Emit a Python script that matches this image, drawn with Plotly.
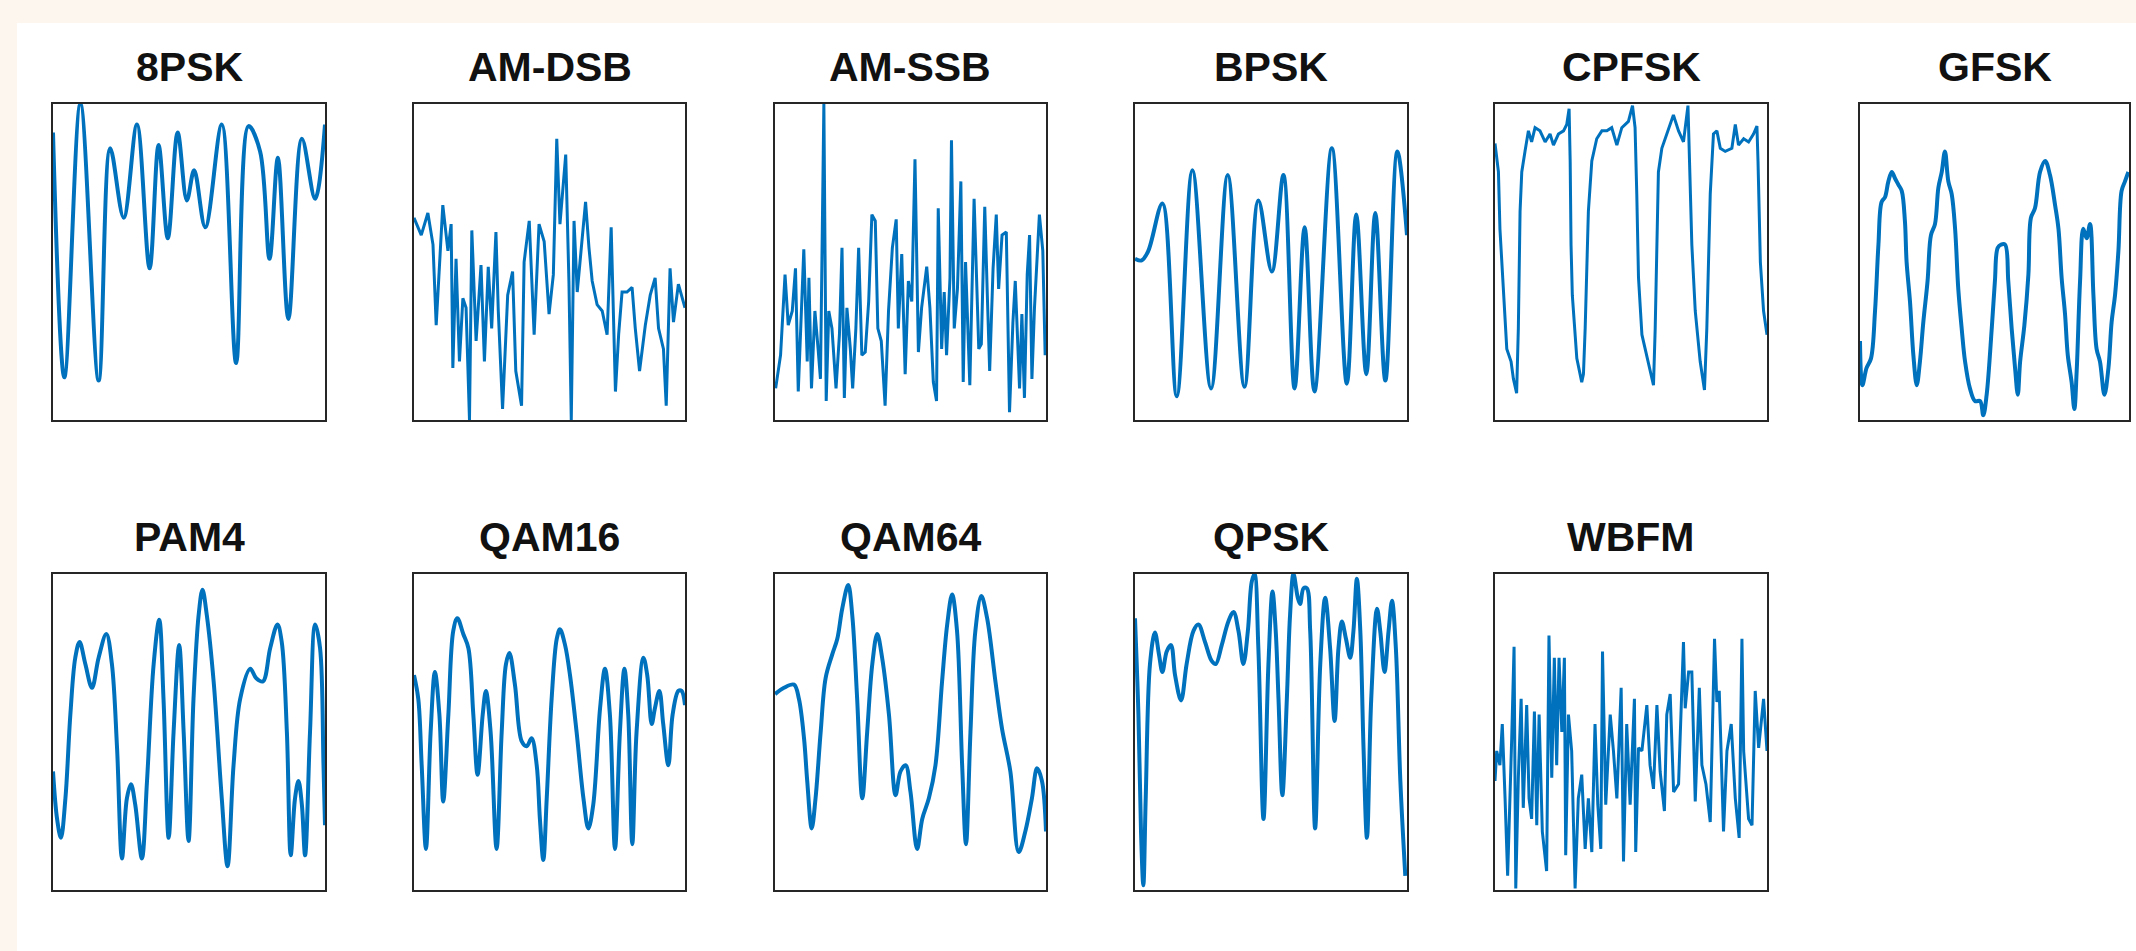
import plotly.graph_objects as go

# ---------------- data (sample index, amplitude) ----------------
titles = ["8PSK", "AM-DSB", "AM-SSB", "BPSK", "CPFSK", "GFSK",
          "PAM4", "QAM16", "QAM64", "QPSK", "WBFM"]

psk8_x = [1, 6.3, 13.8, 22.3, 27.7, 34, 40.2, 46.1, 50.3, 54.6, 59.2, 63.5, 66.9, 72.1, 79.8, 86.5,
          92.3, 97.7, 102.1, 106, 110.9, 117.2, 123.4, 128]
psk8_y = [0.82, -0.73, 1.0, -0.75, 0.72, 0.28, 0.87, -0.04, 0.74, 0.15, 0.82, 0.39, 0.58, 0.22, 0.87, -0.64,
          0.86, 0.70, 0.02, 0.66, -0.36, 0.78, 0.40, 0.87]

amdsb_x = [1, 4.4, 7.5, 9.9, 11.4, 14.5, 16.9, 18.4, 19.2, 20.7, 22.3, 23.9, 25.4, 27, 28.1, 30.1, 32.4, 34,
           35.8, 37.4, 39.4, 40.5, 42.5, 44.9, 47.2, 48.7, 51.4, 52.6, 55, 57.3, 59.6, 62, 64.3, 66.3, 67.9,
           69.4, 72.1, 73.6, 74.7, 76, 77.5, 79.8, 81.4, 83, 84.5, 86.8, 89.2, 91.5, 93.4, 95.4, 96.9, 98.5,
           100.8, 103.2, 104.7, 106.7, 109.4, 111.7, 114, 115.6, 117.9, 119.2, 121, 122.6, 124.9, 128]
amdsb_y = [0.28, 0.17, 0.31, 0.11, -0.40, 0.36, 0.07, 0.24, -0.67, 0.02, -0.63, -0.23, -0.29, -1.0, 0.20,
           -0.50, -0.02, -0.63, -0.03, -0.42, 0.19, -0.31, -0.93, -0.21, -0.06, -0.69, -0.91, 0.00, 0.26,
           -0.46, 0.24, 0.13, -0.33, -0.08, 0.78, 0.24, 0.68, -0.12, -1.0, 0.26, -0.19, 0.15, 0.38, 0.09,
           -0.12, -0.27, -0.31, -0.46, 0.22, -0.82, -0.46, -0.19, -0.19, -0.16, -0.42, -0.69, -0.40, -0.21,
           -0.10, -0.42, -0.55, -0.91, -0.04, -0.38, -0.14, -0.29]

amssb_x = [1.3, 3.6, 5.7, 7.2, 9.1, 10.6, 11.9, 13.4, 14.5, 16.1, 16.9, 18.1, 19.7, 21.2, 22.3, 23.9, 25,
           26.2, 27.7, 29.6, 31.2, 32.4, 33.5, 34.7, 36.3, 37.4, 38.9, 40.2, 41.7, 43.3, 44.9, 46.4, 48,
           49.2, 50.8, 52.6, 54.2, 56, 57.8, 58.8, 60.4, 62, 63.5, 65.1, 66.6, 68.2, 69.7, 72.1, 73.6, 75.2,
           76.7, 77.5, 79.1, 80.3, 81.4, 83, 83.7, 85, 86.5, 88.1, 89.2, 90.3, 92.3, 94.3, 95.4, 96.5, 97.7,
           99.3, 100.5, 101.6, 103.2, 104.7, 105.8, 107.4, 109.4, 110.9, 112.5, 113.6, 115.6, 116.7, 117.9,
           119.2, 120.3, 121.4, 122.6, 124.9, 126.5, 127.6]
amssb_y = [-0.80, -0.59, -0.08, -0.40, -0.31, -0.04, -0.82, -0.29, 0.08, -0.63, -0.10, -0.80, -0.31, -0.55,
           -0.74, 1.0, -0.88, -0.31, -0.42, -0.80, -0.46, 0.09, -0.86, -0.29, -0.55, -0.80, -0.42, 0.09,
           -0.59, -0.57, -0.25, 0.30, 0.26, -0.42, -0.50, -0.91, -0.31, 0.09, 0.27, -0.42, 0.05, -0.71,
           -0.12, -0.25, 0.65, -0.57, -0.29, -0.03, -0.29, -0.76, -0.88, 0.34, -0.55, -0.19, -0.59, -0.10,
           0.77, -0.42, -0.17, 0.51, -0.76, 0.00, -0.78, 0.40, -0.12, -0.55, -0.52, 0.35, -0.21, -0.69,
           -0.04, 0.30, -0.17, 0.17, 0.19, -0.95, -0.38, -0.12, -0.80, -0.33, -0.86, -0.08, 0.17, -0.74,
           -0.29, 0.30, 0.07, -0.59]

bpsk_x = [1, 4.1, 7.2, 13.8, 20.5, 27.8, 36.5, 44.3, 52.1, 58.6, 64.9, 70.3, 75.5, 80.2, 84.8, 92.9, 99.9,
          104.3, 109, 113.2, 117.9, 123.5, 128]
bpsk_y = [0.02, 0.01, 0.07, 0.37, -0.85, 0.58, -0.80, 0.55, -0.79, 0.39, -0.06, 0.55, -0.80, 0.22, -0.82,
          0.72, -0.77, 0.30, -0.71, 0.31, -0.75, 0.70, 0.17]

cpfsk_x = [1, 2.6, 3.3, 4.9, 6.5, 8.5, 9.6, 11.1, 11.9, 12.7, 13.5, 15, 16.6, 18.1, 19.7, 22, 24.4, 26.7,
           28.3, 30.6, 33, 34.5, 35.6, 36.1, 36.5, 37.1, 38.1, 39.2, 41.5, 42.3, 43.1, 44.6, 46.2, 48.5, 50.9,
           53.2, 55.5, 57.9, 60.2, 63.3, 65.2, 66.4, 67.2, 68, 69.6, 71.1, 72.7, 75, 75.8, 76.6, 77.3, 78.9,
           80.4, 82.8, 84.3, 86.7, 89, 91.1, 91.7, 92.9, 94.5, 96.8, 98.8, 99.9, 101.5, 103, 104.6, 106.2,
           108.5, 111.6, 113.2, 114.7, 117.1, 119.4, 121.7, 123.3, 123.8, 124.9, 126.4, 128]
cpfsk_y = [0.75, 0.57, 0.21, -0.21, -0.55, -0.63, -0.74, -0.83, -0.42, 0.32, 0.57, 0.70, 0.83, 0.76, 0.85,
           0.83, 0.76, 0.81, 0.74, 0.81, 0.83, 0.87, 0.97, 0.64, 0.11, -0.21, -0.38, -0.61, -0.76, -0.71,
           -0.42, 0.32, 0.64, 0.78, 0.83, 0.83, 0.85, 0.74, 0.85, 0.89, 0.99, 0.85, 0.43, -0.10, -0.46,
           -0.55, -0.63, -0.78, -0.42, 0.21, 0.57, 0.72, 0.78, 0.87, 0.93, 0.83, 0.76, 0.99, 0.64, 0.11,
           -0.31, -0.63, -0.81, -0.42, 0.43, 0.81, 0.83, 0.72, 0.70, 0.72, 0.87, 0.74, 0.78, 0.76, 0.81,
           0.86, 0.64, 0.00, -0.31, -0.46]

gfsk_x = [1, 2.1, 4.1, 6.2, 8.1, 9.7, 11.2, 12.8, 14.4, 16, 17.5, 19.1, 20.7, 22.2, 23, 24.6, 26.2, 27.8,
          29.3, 30.9, 32.9, 34.5, 36.4, 38, 39.6, 41.1, 42.7, 44.3, 45.9, 47.4, 49, 50.6, 52.9, 55.3, 57.7,
          59.2, 60.8, 63.2, 64.7, 66, 67.6, 69.5, 71, 72.6, 74.2, 75.5, 76.6, 78.6, 80.5, 81.7, 83.6, 86,
          88.4, 90.7, 93.1, 94.7, 96.2, 97.8, 99.1, 100.9, 102.2, 103.3, 104.9, 106.4, 108, 109.6, 111.2,
          112.7, 114.3, 116.4, 118.3, 119.8, 121.4, 123, 124.5, 126.1, 127.7]
gfsk_y = [-0.50, -0.78, -0.67, -0.61, -0.31, 0.11, 0.38, 0.41, 0.51, 0.57, 0.53, 0.49, 0.45, 0.26, 0.00,
          -0.25, -0.59, -0.78, -0.63, -0.38, -0.12, 0.17, 0.24, 0.47, 0.57, 0.70, 0.51, 0.43, 0.21, -0.17,
          -0.42, -0.63, -0.80, -0.88, -0.88, -0.97, -0.84, -0.42, -0.12, 0.09, 0.11, 0.11, -0.12, -0.42,
          -0.67, -0.84, -0.63, -0.40, -0.08, 0.28, 0.34, 0.57, 0.64, 0.55, 0.36, 0.21, -0.10, -0.33, -0.59,
          -0.76, -0.93, -0.69, -0.12, 0.21, 0.15, 0.24, -0.21, -0.55, -0.63, -0.84, -0.67, -0.38, -0.21,
          0.07, 0.45, 0.51, 0.57]

pam4_x = [1, 2.9, 4.7, 6.8, 9.1, 11.4, 13.4, 16.1, 19.2, 22.3, 25.9, 28.5, 30.9, 33.2, 35.5, 37.4, 39.4,
          42.5, 44.9, 48, 50.6, 52.6, 55, 57.3, 59.9, 62, 64.3, 66.6, 69, 70.8, 72.8, 76, 79.8, 82.5, 85.3,
          88.4, 93.1, 95.9, 99, 102.4, 105.8, 107.8, 110.2, 112, 114, 115.6, 117.2, 118.7, 121, 123.4,
          125.7, 127.3, 128]
pam4_y = [-0.25, -0.55, -0.67, -0.42, 0.11, 0.47, 0.57, 0.43, 0.28, 0.47, 0.62, 0.43, -0.10, -0.80, -0.42,
          -0.33, -0.46, -0.80, -0.31, 0.43, 0.71, 0.21, -0.67, 0.00, 0.55, 0.00, -0.69, 0.21, 0.74, 0.90,
          0.74, 0.32, -0.42, -0.85, -0.21, 0.21, 0.40, 0.34, 0.32, 0.53, 0.68, 0.57, 0.00, -0.78, -0.42,
          -0.31, -0.46, -0.78, 0.00, 0.68, 0.53, -0.21, -0.59]

qam16_x = [1, 3, 4.6, 6.6, 8.8, 10.8, 12.9, 14.7, 17.1, 19.4, 21.3, 24.1, 26.5, 28.8, 30.8, 33.2, 34.7,
           36.9, 39.7, 42.1, 44.1, 45.7, 48.3, 51.5, 53.8, 56.1, 58.5, 60, 61.6, 63.2, 65.5, 67.9, 69.4,
           71.8, 74.1, 77.2, 80.4, 82.7, 85, 88.2, 90.5, 92.8, 95.2, 97.5, 99.6, 101.4, 103.3, 105.3, 108.5,
           110.3, 112.4, 113.9, 116, 117.8, 120.2, 122.2, 124.9, 126.4, 128]
qam16_y = [0.36, 0.21, -0.21, -0.74, 0.00, 0.38, 0.11, -0.44, 0.11, 0.64, 0.72, 0.62, 0.53, 0.11, -0.27,
           0.11, 0.26, 0.00, -0.74, 0.00, 0.43, 0.50, 0.30, -0.06, -0.09, -0.04, -0.21, -0.55, -0.81, -0.42,
           0.21, 0.59, 0.65, 0.55, 0.36, 0.00, -0.42, -0.61, -0.46, 0.15, 0.40, 0.11, -0.74, 0.00, 0.40,
           0.11, -0.71, 0.00, 0.47, 0.36, 0.05, 0.15, 0.26, 0.05, -0.21, 0.11, 0.26, 0.26, 0.17]

qam64_x = [1, 5.2, 9.9, 12.2, 14.6, 16.1, 18.2, 20, 22.4, 24.7, 27.8, 30.2, 32.5, 35.3, 37.2, 39.5, 41.9,
           44.2, 46.6, 48.9, 51.2, 54.4, 57.5, 59.8, 62.2, 64.5, 67.6, 70, 73.1, 76.2, 79.3, 81.7, 84, 86.3,
           88.7, 90.5, 92.6, 94.9, 97.7, 100.4, 104.3, 107.4, 111.3, 115.2, 118.3, 121.4, 123.8, 126.1, 128]
qam64_y = [0.24, 0.28, 0.30, 0.21, -0.04, -0.31, -0.61, -0.42, 0.00, 0.34, 0.49, 0.59, 0.78, 0.93, 0.74,
           0.21, -0.42, 0.00, 0.43, 0.62, 0.47, 0.11, -0.40, -0.25, -0.21, -0.38, -0.74, -0.55, -0.42,
           -0.21, 0.32, 0.68, 0.87, 0.64, -0.21, -0.71, 0.00, 0.64, 0.86, 0.72, 0.32, 0.02, -0.25, -0.76,
           -0.63, -0.42, -0.23, -0.31, -0.63]

qpsk_x = [1, 2.6, 3.8, 4.9, 6, 8, 10.3, 12.2, 13.8, 15.8, 17.8, 19.7, 22.5, 25.1, 28.3, 30.6, 33.7, 36.8,
          38.7, 41.5, 44.6, 47, 49.3, 51.6, 53.7, 55.5, 56.8, 58.6, 61, 63.3, 65.2, 66.7, 68, 69.8, 71.9,
          73.4, 75, 77, 78.1, 79.7, 81.2, 82.8, 85.1, 87.5, 89.8, 92.1, 94.2, 96, 97.6, 99.5, 101.5, 103,
          104.6, 106.2, 107.7, 109.3, 111.3, 114, 115.5, 117.5, 119.4, 121, 122.8, 124.9, 127.2]
qpsk_y = [0.72, 0.11, -0.63, -0.97, -0.42, 0.43, 0.63, 0.49, 0.38, 0.51, 0.55, 0.36, 0.20, 0.43, 0.64,
          0.68, 0.57, 0.45, 0.43, 0.55, 0.70, 0.76, 0.64, 0.43, 0.64, 0.95, 1.0, 0.53, -0.55, 0.43, 0.89,
          0.64, 0.21, -0.40, 0.21, 0.74, 1.0, 0.85, 0.81, 0.91, 0.91, 0.64, -0.61, 0.43, 0.85, 0.53, 0.07,
          0.53, 0.70, 0.59, 0.47, 0.64, 0.97, 0.64, -0.10, -0.67, 0.21, 0.78, 0.64, 0.38, 0.64, 0.83, 0.53,
          -0.31, -0.91]

wbfm_x = [1, 1.8, 3.3, 4.4, 5.7, 6.9, 8.8, 9.9, 10.7, 11.9, 13.2, 14.2, 15.8, 16.9, 18.1, 19.4, 20.5, 21.6,
          23.1, 25.1, 26.2, 27.5, 28.7, 29.8, 30.9, 32.2, 33.4, 34, 35.3, 36.8, 38.4, 39.9, 41.5, 43.1, 44.6,
          46.2, 47.7, 49, 50.4, 51.2, 52.7, 54.8, 56.3, 57.9, 59.9, 61, 62.5, 64.1, 66.1, 66.7, 68, 69.6,
          71.9, 73.4, 75, 76.6, 78.1, 80.1, 81.2, 82.8, 84.4, 86.7, 89, 89.8, 91.4, 92.9, 94.5, 96.4, 97.6,
          99.5, 101.5, 103.5, 104.6, 105.7, 107.7, 109.3, 111.3, 113.2, 115, 116.3, 117.1, 119.4, 121,
          122.5, 124.1, 126.4, 128]
wbfm_y = [-0.31, -0.12, -0.21, 0.05, -0.42, -0.91, -0.04, 0.54, -0.99, -0.29, 0.21, -0.48, 0.17, -0.42,
          -0.55, 0.13, -0.59, 0.11, -0.63, -0.88, 0.61, -0.29, 0.47, -0.21, 0.47, 0.00, 0.47, -0.78, 0.11,
          -0.12, -0.99, -0.42, -0.27, -0.74, -0.42, -0.76, 0.05, -0.46, -0.74, 0.51, -0.46, 0.11, -0.12,
          -0.42, 0.28, -0.82, 0.05, -0.46, 0.21, -0.76, -0.10, -0.12, 0.17, -0.21, -0.36, 0.17, -0.25,
          -0.50, 0.11, 0.24, -0.38, -0.33, 0.57, 0.15, 0.38, 0.38, -0.44, 0.28, -0.21, -0.33, -0.57, 0.59,
          0.19, 0.26, -0.63, -0.12, 0.05, -0.42, -0.67, 0.59, -0.12, -0.55, -0.59, 0.26, -0.10, 0.21, -0.12]

series_x = [psk8_x, amdsb_x, amssb_x, bpsk_x, cpfsk_x, gfsk_x, pam4_x, qam16_x, qam64_x, qpsk_x, wbfm_x]
series_y = [psk8_y, amdsb_y, amssb_y, bpsk_y, cpfsk_y, gfsk_y, pam4_y, qam16_y, qam64_y, qpsk_y, wbfm_y]
smooth = [True, False, False, True, False, True, True, True, True, True, False]

# ---------------- layout ----------------
W, H = 2136, 951
col_px = [(53, 325), (414, 685), (775, 1046), (1135, 1407), (1495, 1767), (1860, 2129)]
row_px = [(104, 420), (574, 890)]
title_mid_px = [67, 537]
BLUE = "#0072BD"

fig = go.Figure()
layout = dict(
    width=W, height=H,
    margin=dict(l=0, r=0, t=0, b=0),
    paper_bgcolor="#FDF6EE",
    plot_bgcolor="white",
    showlegend=False,
    shapes=[dict(type="rect", xref="paper", yref="paper",
                 x0=17 / W, x1=1, y0=0, y1=1 - 23 / H,
                 fillcolor="white", line=dict(width=0), layer="below")],
    annotations=[],
)

for i, name in enumerate(titles):
    r, c = divmod(i, 6)
    k = "" if i == 0 else str(i + 1)
    x0, x1 = col_px[c]
    yt, yb = row_px[r]
    ax = dict(domain=[x0 / W, x1 / W], range=[1, 128], showticklabels=False, ticks="",
              showgrid=False, zeroline=False, showline=True, linecolor="#262626",
              linewidth=2, mirror=True, anchor="y" + k)
    ay = dict(domain=[1 - yb / H, 1 - yt / H], range=[-1, 1], showticklabels=False, ticks="",
              showgrid=False, zeroline=False, showline=True, linecolor="#262626",
              linewidth=2, mirror=True, anchor="x" + k)
    layout["xaxis" + k] = ax
    layout["yaxis" + k] = ay
    line = dict(color=BLUE, width=4 if smooth[i] else 3,
                shape="spline" if smooth[i] else "linear")
    if smooth[i]:
        line["smoothing"] = 1.0
    fig.add_trace(go.Scatter(
        x=series_x[i], y=series_y[i], mode="lines", line=line,
        xaxis="x" + k, yaxis="y" + k, hoverinfo="skip"))
    layout["annotations"].append(dict(
        text="<b>" + name + "</b>", xref="paper", yref="paper",
        x=(x0 + x1) / 2 / W, y=1 - title_mid_px[r] / H,
        xanchor="center", yanchor="middle", showarrow=False,
        font=dict(family="Liberation Sans, Arial, Helvetica, sans-serif", size=41, color="#111111")))

fig.update_layout(**layout)
fig.write_html("out.html", config={"displayModeBar": False},
               post_script="document.body.style.margin='0';document.body.style.overflow='hidden';")
